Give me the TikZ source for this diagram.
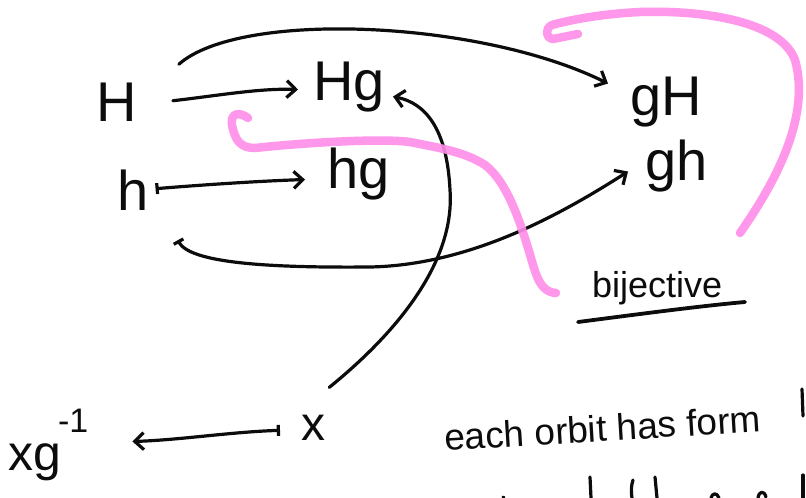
\documentclass[tikz,border=0pt]{standalone}
\usepackage{fontspec}
\setmainfont{Liberation Sans}
\usetikzlibrary{arrows.meta}
\definecolor{ink}{RGB}{12,12,12}
\definecolor{hilite}{RGB}{255,140,232}
\begin{document}
\begin{tikzpicture}[x=1pt,y=-1pt,
  big/.style={font=\fontsize{56}{56}\selectfont, inner sep=0pt, anchor=base west, text=ink},
  mid/.style={font=\fontsize{48}{48}\selectfont, inner sep=0pt, anchor=base west, text=ink},
  note/.style={font=\fontsize{37}{37}\selectfont, inner sep=0pt, anchor=base west, text=ink},
  pen/.style={line width=3.2pt, line cap=round, line join=round, draw=ink},
  arr/.style={pen, -{Straight Barb[length=9pt,width=17pt,line width=3.2pt]}},
  mapsto/.style={pen, {Bar[width=11pt,line width=3.2pt]}-{Straight Barb[length=9pt,width=17pt,line width=3.2pt]}},
  marker/.style={line width=8.5pt, draw=hilite, line cap=round, line join=round, opacity=0.9}]
\useasboundingbox (0,0) rectangle (806,498);

% cosets and elements
\node[big] (H)  at (96,121)  {H};
\node[big] (Hg) at (313,100) {Hg};
\node[big] (h)  at (117,210) {h};
\node[big] (hg) at (327,188) {hg};
\node[big] (gH) at (630,115) {gH};
\node[big] (gh) at (645,180) {gh};
\node[mid] (x)  at (301,440) {x};
\node[font=\fontsize{50}{50}\selectfont, inner sep=0pt, anchor=base west, text=ink] (xg) at (8,470)
  {xg\kern-3pt\raisebox{38pt}{\fontsize{34}{34}\selectfont -1}};

% annotations
\node[font=\fontsize{36}{36}\selectfont, inner sep=0pt, anchor=base west, text=ink] (bij) at (592,297) {bijective};
\node[note, rotate=3.5] (orbit) at (445,451) {each orbit has form};

% maps between the cosets
\draw[arr] ([xshift=36pt,yshift=1pt]H.east) .. controls (215,96) and (260,88) .. ([xshift=-15pt,yshift=-3pt]Hg.west);
\draw[arr] ([xshift=42pt,yshift=18pt]H.north east) .. controls (240,10) and (480,20) .. ([xshift=-22pt,yshift=18pt]gH.west);
\draw[mapsto] ([xshift=7pt,yshift=1pt]h.east) .. controls (200,185) and (260,181) .. ([xshift=-22pt,yshift=-6pt]hg.west);
\draw[mapsto] ([xshift=45pt,yshift=-30pt]h.south) .. controls (190,262) and (260,268) .. (370,267)
  .. controls (470,265) and (560,215) .. ([xshift=-17pt,yshift=-6pt]gh.west);
\draw[arr] ([xshift=16pt,yshift=27pt]x.north) .. controls (400,330) and (455,260) .. (450,190)
  .. controls (447,128) and (425,103) .. ([xshift=8pt,yshift=-10pt]Hg.east);
\draw[mapsto] ([xshift=-21pt,yshift=-3pt]x.west) .. controls (230,432) and (180,440) .. ([xshift=44pt,yshift=3pt]xg.east);

% underline of the annotation
\draw[pen, line width=3.8pt] (578,322) .. controls (640,314) and (700,306) .. (745,302);

% highlighter strokes
\draw[marker] (740,233) .. controls (770,190) and (812,120) .. (795,60)
  .. controls (780,20) and (700,10) .. (640,12) .. controls (600,14) and (570,20) .. (552,25)
  .. controls (545,28) and (545,38) .. (553,39) -- (578,34);
\draw[marker] (556,293) .. controls (538,292) and (535,270) .. (528,248)
  .. controls (518,215) and (505,180) .. (485,165) .. controls (465,152) and (440,148) .. (410,142)
  .. controls (380,138) and (300,143) .. (255,148) .. controls (240,148) and (235,140) .. (232,125)
  .. controls (230,112) and (240,112) .. (248,118);

% tops of the next line of writing
\draw[pen] (802,389) -- (803,416);
\draw[pen] (503,497) -- (504,498);
\draw[pen] (590,477) -- (591,498);
\draw[pen] (633,480) .. controls (631,486) and (631,492) .. (632,498);
\draw[pen] (655,477) -- (657,498);
\draw[pen] (711,498) .. controls (712,493) and (717,492) .. (719,498);
\draw[pen] (758,498) .. controls (759,491) and (764,490) .. (766,497);
\draw[pen] (803,475) -- (803,498);
\end{tikzpicture}
\end{document}
